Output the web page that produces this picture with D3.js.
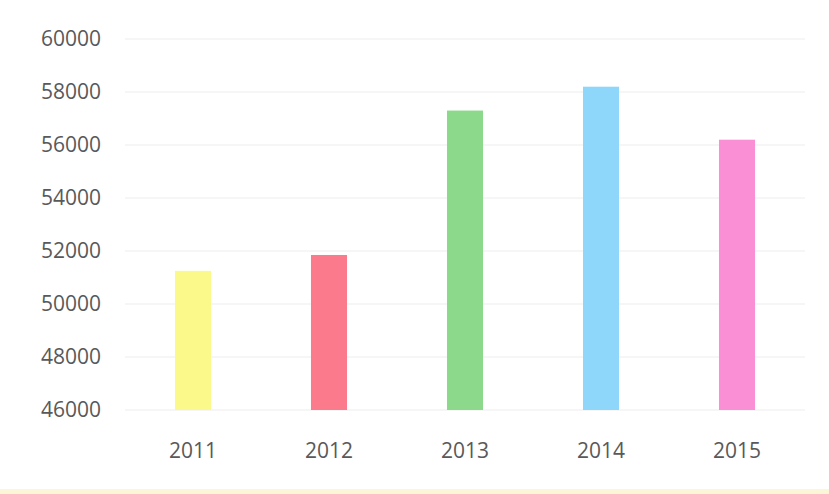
<!DOCTYPE html>
<html>
<head>
<meta charset="utf-8">
<script src="https://cdn.jsdelivr.net/npm/d3@7"></script>
<style>
  html, body { margin: 0; padding: 0; background: #ffffff; }
  svg { display: block; }
</style>
</head>
<body>
<svg id="chart" width="829" height="494"></svg>
<script>
// Annual values, one bar per year
const years = ["2011", "2012", "2013", "2014", "2015"];
const values = [51250, 51850, 57300, 58200, 56200];
const barColors = ["#fbf98a", "#fb7b8c", "#8cd98c", "#8fd6fb", "#fb8fd6"];
const yTicks = [46000, 48000, 50000, 52000, 54000, 56000, 58000, 60000];

const width = 829, height = 494;
const margin = { top: 39, right: 24, bottom: 84, left: 125 };

const svg = d3.select("#chart");

// pale strip along the bottom edge
svg.append("rect")
  .attr("x", 0).attr("y", 489)
  .attr("width", width).attr("height", 5)
  .attr("fill", "#fcf6d6");

const x = d3.scaleBand()
  .domain(years)
  .range([margin.left, width - margin.right])
  .paddingInner(0.735)
  .paddingOuter(0.3675);

const y = d3.scaleLinear()
  .domain([46000, 60000])
  .range([height - margin.bottom, margin.top]);

// horizontal gridlines
svg.append("g")
  .selectAll("line")
  .data(yTicks)
  .join("line")
  .attr("x1", margin.left)
  .attr("x2", width - margin.right)
  .attr("y1", d => y(d))
  .attr("y2", d => y(d))
  .attr("stroke", "#ededed")
  .attr("stroke-width", 1);

// y axis labels
const yAxis = d3.axisLeft(y).tickValues(yTicks).tickSize(0).tickPadding(0)
  .tickFormat(d3.format("d"));
svg.append("g")
  .attr("transform", `translate(${margin.left - 24},0)`)
  .call(yAxis)
  .call(g => g.select(".domain").remove())
  .call(g => g.selectAll("text")
    .attr("fill", "#595959")
    .style("font-family", "'Open Sans', sans-serif")
    .style("font-size", "21px"));

// bars
svg.append("g")
  .selectAll("rect")
  .data(years)
  .join("rect")
  .attr("x", d => x(d))
  .attr("width", x.bandwidth())
  .attr("y", (d, i) => y(values[i]))
  .attr("height", (d, i) => y(46000) - y(values[i]))
  .attr("fill", (d, i) => barColors[i]);

// x axis labels
const xAxis = d3.axisBottom(x).tickSize(0).tickPadding(0);
svg.append("g")
  .attr("transform", `translate(0,${y(46000) + 48})`)
  .call(xAxis)
  .call(g => g.select(".domain").remove())
  .call(g => g.selectAll("text")
    .attr("dy", "0")
    .attr("fill", "#595959")
    .style("font-family", "'Open Sans', sans-serif")
    .style("font-size", "21px"));
</script>
</body>
</html>
